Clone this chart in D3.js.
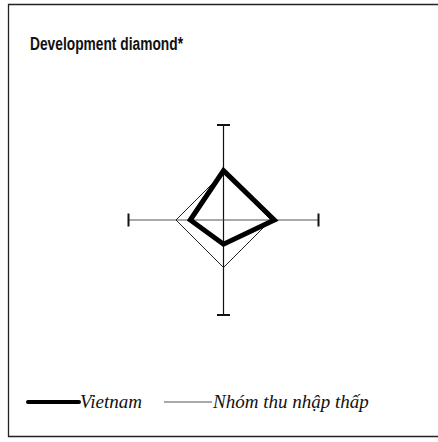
<!DOCTYPE html>
<html>
<head>
<meta charset="utf-8">
<script src="https://cdn.jsdelivr.net/npm/d3@7"></script>
<style>
  html, body { margin: 0; padding: 0; background: #fff; }
  svg { display: block; }
  .title { font-family: 'Liberation Sans Narrow', 'Liberation Sans', Arial, sans-serif; font-weight: bold; font-size: 18px; fill: #111; }
  .legend text { font-family: 'Liberation Serif', 'Times New Roman', serif; font-style: italic; font-size: 19px; fill: #111; }
</style>
</head>
<body>
<svg id="chart" width="438" height="442"></svg>
<script>
// diamond axes, clockwise from the top
var categories = ["Life expectancy", "GNI per capita", "Gross primary enrollment", "Access to improved water source"];
var vietnam = [1.04, 1.07, 0.51, 0.70];
var incomeGroup = [1.0, 1.0, 1.0, 1.0];
var seriesNames = ["Vietnam", "Nhóm thu nhập thấp"];
var title = "Development diamond*";

var svg = d3.select("#chart");
var cx = 223.5, cy = 220;

// frame (right edge runs off the picture)
svg.append("path")
    .attr("d", "M442,4.5 H8.5 V436.5 H442")
    .attr("fill", "none")
    .attr("stroke", "#222")
    .attr("stroke-width", 1.3);

var t = svg.append("text")
    .attr("class", "title")
    .attr("x", 30)
    .attr("y", 50)
    .text(title);
// narrow face is not always there, squeeze the normal one
if (t.node().getComputedTextLength() > 158) {
    t.attr("textLength", 153).attr("lengthAdjust", "spacingAndGlyphs");
}

var r = d3.scaleLinear().domain([0, 2]).range([0, 95]);
var ang = function (i) { return i * 2 * Math.PI / categories.length; };

var g = svg.append("g").attr("transform", "translate(" + cx + "," + cy + ")");

// axes with end caps
categories.forEach(function (c, i) {
    var a = ang(i), len = r(2);
    var x = Math.sin(a) * len, y = -Math.cos(a) * len;
    var vertical = (i % 2 === 0);
    g.append("line")
        .attr("x1", 0).attr("y1", 0)
        .attr("x2", x).attr("y2", y)
        .attr("stroke", vertical ? "#111" : "#555")
        .attr("stroke-width", 1.2);
    var cap = 6.5;
    g.append("line")
        .attr("x1", x - Math.cos(a) * cap).attr("y1", y - Math.sin(a) * cap)
        .attr("x2", x + Math.cos(a) * cap).attr("y2", y + Math.sin(a) * cap)
        .attr("stroke", "#111")
        .attr("stroke-width", 2);
});

var line = d3.lineRadial()
    .angle(function (d, i) { return ang(i); })
    .radius(function (d) { return r(d); })
    .curve(d3.curveLinearClosed);

g.append("path")
    .attr("d", line(incomeGroup))
    .attr("fill", "none")
    .attr("stroke", "#222")
    .attr("stroke-width", 1);

g.append("path")
    .attr("d", line(vietnam))
    .attr("fill", "none")
    .attr("stroke", "#000")
    .attr("stroke-width", 5)
    .attr("stroke-linejoin", "miter");

// legend
var legend = svg.append("g").attr("class", "legend");

legend.append("line")
    .attr("x1", 28).attr("x2", 79).attr("y1", 402).attr("y2", 402)
    .attr("stroke", "#000").attr("stroke-width", 4).attr("stroke-linecap", "round");
legend.append("text").attr("x", 80).attr("y", 408).text(seriesNames[0]);

legend.append("line")
    .attr("x1", 164).attr("x2", 212).attr("y1", 402).attr("y2", 402)
    .attr("stroke", "#555").attr("stroke-width", 1.2);
legend.append("text").attr("x", 213).attr("y", 408).text(seriesNames[1]);
</script>
</body>
</html>
